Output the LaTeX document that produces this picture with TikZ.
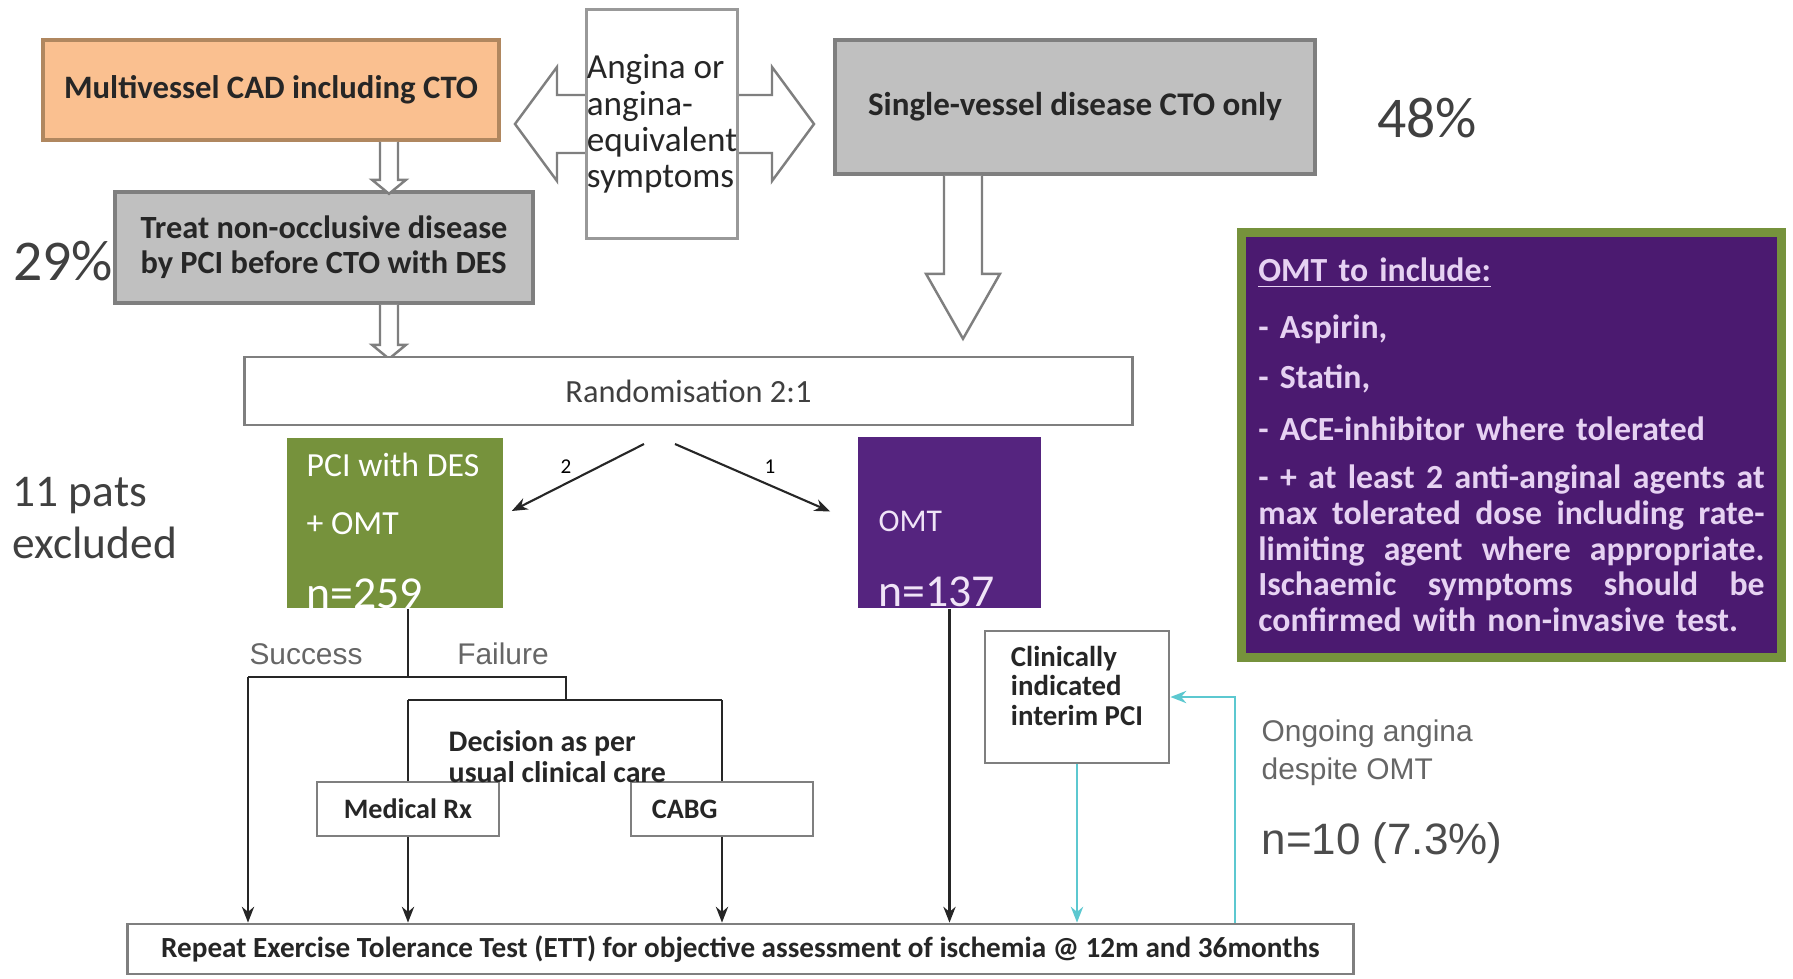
\documentclass[tikz,border=0pt]{standalone}
\usepackage{fontspec}
\setmainfont{Carlito}
\newfontfamily\arialfont{Liberation Sans}
\usepackage{tikz}
\usetikzlibrary{calc, arrows.meta}

\definecolor{peach}{HTML}{FAC090}
\definecolor{peachedge}{HTML}{B0875F}
\definecolor{boxgray}{HTML}{C0C0C0}
\definecolor{edgegray}{HTML}{7F7F7F}
\definecolor{olive}{HTML}{76923C}
\definecolor{omtpurple}{HTML}{55247F}
\definecolor{infopurple}{HTML}{4B1A70}
\definecolor{lilac}{HTML}{E6D2F2}
\definecolor{linecol}{HTML}{262626}
\definecolor{labelgray}{HTML}{404040}
\definecolor{tealline}{HTML}{5CC8D0}

\newcommand{\jline}[1]{\makebox[5.06cm][s]{\spaceskip=0.25em plus 3em\relax #1}}

\begin{document}
\begin{tikzpicture}[x=0.01cm, y=-0.01cm,
    box/.style={draw=edgegray, line width=0.8pt, inner sep=0pt},
    boldtext/.style={font=\fontsize{9.2}{10}\selectfont\bfseries, text=black!85},
    lbl/.style={inner sep=0pt, anchor=west},
    conn/.style={draw=linecol, line width=0.6pt},
    tip/.style={-{Stealth[length=4.5pt,width=3.5pt]}},
    hollow/.style={draw=edgegray, line width=0.7pt, fill=white},
    bigpct/.style={font=\fontsize{16.4}{18}\selectfont, text=labelgray, inner sep=0pt},
    grayarial/.style={font=\arialfont\fontsize{8.5}{10.8}\selectfont, text=black!60, inner sep=0pt}
]
\useasboundingbox (0,0) rectangle (1793,978);

% top row
\coordinate (sympt) at (662,124);
\path[hollow] ($(sympt)+(-147,0)$) -- ++(42,-57) -- ++(0,28) -- ++(215,0) -- ++(0,-28)
    -- ++(42,57) -- ++(-42,57) -- ++(0,-28) -- ++(-215,0) -- ++(0,28) -- cycle;
\node[box, fill=white, draw=edgegray!80, minimum width=1.48cm, minimum height=2.29cm,
    align=left, font=\fontsize{10}{10.3}\selectfont, text=black!85] (angina) at (sympt)
    {Angina or\\angina-\\equivalent\\symptoms};
\node[box, fill=peach, draw=peachedge, line width=1pt, minimum width=4.56cm, minimum height=1cm, boldtext, font=\fontsize{9.3}{10}\selectfont\bfseries] (multi) at (271,90) {Multivessel CAD including CTO};
\node[box, fill=boxgray, line width=1pt, minimum width=4.8cm, minimum height=1.34cm, boldtext, font=\fontsize{9.4}{10}\selectfont\bfseries] (single) at (1075,107) {Single-vessel disease CTO only};
\node[bigpct] (p48) at (1427,118) {48\%};

\node[box, fill=boxgray, line width=1pt, minimum width=4.18cm, minimum height=1.11cm, boldtext, align=left] (treat) at (324,247.5) {Treat non-occlusive disease\\by PCI before CTO with DES};
\node[bigpct] (p29) at (63,261) {29\%};

\coordinate (colA) at (389,0);
\coordinate (colB) at (963,0);
\path[hollow] ($(multi.south -| colA)+(-9,0)$) -- ++(0,38) -- ++(-8,0) -- ++(17,14) -- ++(17,-14) -- ++(-8,0) -- ++(0,-38);
\path[hollow] ($(treat.south -| colA)+(-9,0)$) -- ++(0,40) -- ++(-8,0) -- ++(17,14) -- ++(17,-14) -- ++(-8,0) -- ++(0,-40);
\path[hollow] ($(single.south -| colB)+(-19,0)$) -- ++(0,98) -- ++(-18,0) -- ++(37,65) -- ++(37,-65) -- ++(-18,0) -- ++(0,-98);

% randomisation
\node[box, fill=white, minimum width=8.87cm, minimum height=0.68cm, font=\fontsize{9.2}{10}\selectfont, text=black!75] (rand) at (688.5,391) {Randomisation 2:1};

\node[fill=olive, minimum width=2.16cm, minimum height=1.7cm, inner sep=0pt] (pci) at (395,523) {};
\node[lbl, text=white, font=\fontsize{9.6}{10}\selectfont] (pcitxt) at (306,465) {PCI with DES};
\node[lbl, text=white, font=\fontsize{9.6}{10}\selectfont] (pciomt) at (306,524) {+ OMT};
\node[lbl, text=white, font=\fontsize{13}{14}\selectfont] (pcin) at (306,594) {n=259};

\node[fill=omtpurple, minimum width=1.83cm, minimum height=1.71cm, inner sep=0pt] (omt) at (949.5,522.5) {};
\node[lbl, text=lilac!60!white, font=\fontsize{9}{10}\selectfont] (omttxt) at (878,521) {OMT};
\node[lbl, text=lilac!60!white, font=\fontsize{13}{14}\selectfont] (omtn) at (878,592) {n=137};

\node[lbl, font=\fontsize{12.9}{14.8}\selectfont, text=labelgray, align=left] (excl) at (12,518) {11 pats\\excluded};

\coordinate (r2) at (644,444);
\coordinate (r1) at (675,444);
\draw[conn, tip] (r2) -- ($(pci.east)+(8,-12)$);
\draw[conn, tip] (r1) -- ($(omt.west)+(-27,-11)$);
\node[font=\fontsize{6}{7}\selectfont, inner sep=0pt] (two) at (566,467) {2};
\node[font=\fontsize{6}{7}\selectfont, inner sep=0pt] (one) at (770,467) {1};

% PCI arm
\node[box, fill=white, minimum width=1.82cm, minimum height=0.54cm, boldtext, font=\fontsize{8}{9}\selectfont\bfseries] (medrx) at (408,809) {Medical Rx};
\node[box, fill=white, minimum width=1.82cm, minimum height=0.54cm, text width=1.4cm, inner xsep=0.21cm, align=left, boldtext, font=\fontsize{8}{9}\selectfont\bfseries] (cabg) at (722,809) {CABG};
\node[lbl, boldtext, align=left, font=\fontsize{8.5}{8.8}\selectfont\bfseries] (decision) at (448,757) {Decision as per\\usual clinical care};
\node[grayarial] (succ) at (306,654) {Success};
\node[grayarial] (fail) at (503,654) {Failure};

\node[box, fill=white, minimum width=12.25cm, minimum height=0.5cm, boldtext, font=\fontsize{8.3}{9}\selectfont\bfseries] (ett) at (740.5,949) {Repeat Exercise Tolerance Test (ETT) for objective assessment of ischemia @ 12m and 36months};

\coordinate (split) at (408,677);
\coordinate (okturn) at (248,677);
\coordinate (failturn) at (566,677);
\coordinate (decturn) at (566,700);
\draw[conn] (pci.south -| split) -- (split);
\draw[conn] (okturn) -- (failturn) -- (decturn);
\draw[conn, tip] (okturn) -- (okturn |- ett.north);
\draw[conn] (medrx.north |- decturn) -- (cabg.north |- decturn);
\draw[conn] (medrx.north |- decturn) -- (medrx.north);
\draw[conn] (cabg.north |- decturn) -- (cabg.north);
\draw[conn, tip] (medrx.south) -- (medrx.south |- ett.north);
\draw[conn, tip] (cabg.south) -- (cabg.south |- ett.north);

% OMT arm
\node[box, fill=white, minimum width=1.84cm, minimum height=1.32cm, boldtext, align=left, font=\fontsize{8.2}{8.4}\selectfont\bfseries] (interim) at (1077,697) {Clinically\\indicated\\interim PCI\\[-2pt]\mbox{}};
\draw[conn, tip] (omt.south) -- (omt.south |- ett.north);
\draw[conn, draw=tealline, tip] (interim.south) -- (interim.south |- ett.north);
\coordinate (loop) at ($(ett.north east)+(-120,0)$);
\draw[conn, draw=tealline, tip] (loop) |- (interim.east);
\node[lbl, grayarial, align=left] (ongoing) at (1261,753) {Ongoing angina\\despite OMT};
\node[lbl, font=\arialfont\fontsize{12.5}{14}\selectfont, text=black!70] (nten) at (1261,843) {n=10 (7.3\%)};

% OMT contents
\node[draw=olive, line width=2.6pt, fill=infopurple, minimum width=5.4cm, minimum height=4.25cm,
    text width=5.06cm, inner xsep=0.17cm, align=left, text=lilac,
    font=\fontsize{9.6}{10.2}\selectfont\bfseries] (info) at (1511.5,445)
    {\underline{OMT to include:}\\[6pt]
    - Aspirin,\\[4pt]
    - Statin,\\[4.5pt]
    - ACE-inhibitor where tolerated\\[3.5pt]
    \jline{- + at least 2 anti-anginal agents at}\\
    \jline{max tolerated dose including rate-}\\
    \jline{limiting agent where appropriate.}\\
    \jline{Ischaemic symptoms should be}\\
    confirmed with non-invasive test.};
\end{tikzpicture}
\end{document}
